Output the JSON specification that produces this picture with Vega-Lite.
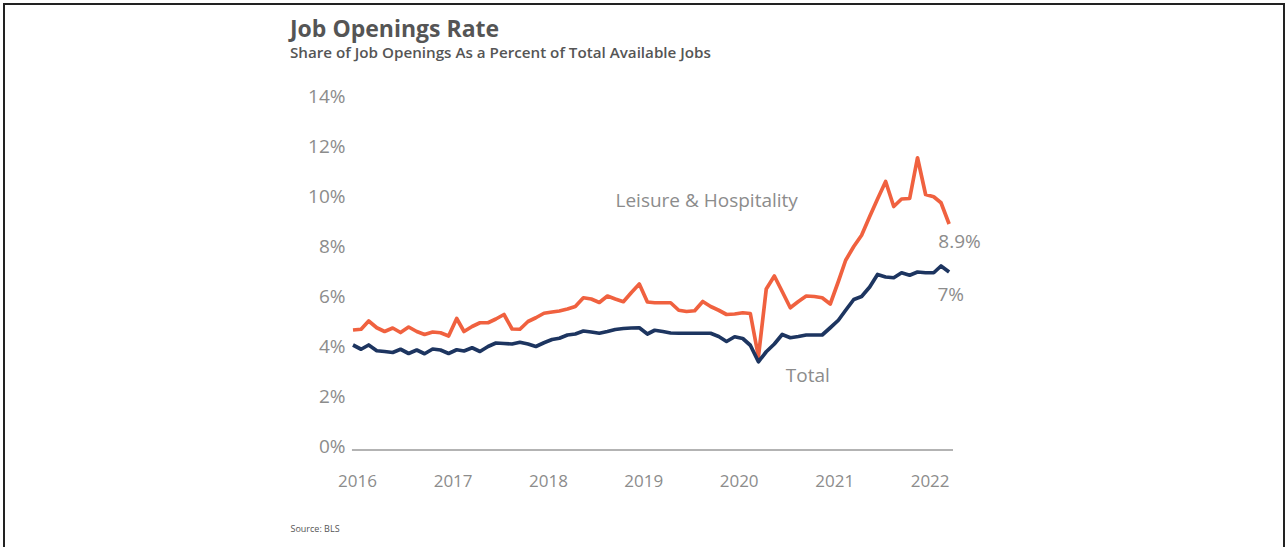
{
  "$schema": "https://vega.github.io/schema/vega-lite/v6.json",
  "width": 1280,
  "height": 548,
  "autosize": {"type": "none"},
  "padding": {"left": 4, "top": 4, "right": 2, "bottom": -5},
  "background": "white",
  "config": {"view": {"stroke": "#222222", "strokeWidth": 2}, "font": "Open Sans"},
  "title": {
    "text": "Job Openings Rate",
    "subtitle": "Share of Job Openings As a Percent of Total Available Jobs",
    "anchor": "start",
    "frame": "group",
    "dx": 286,
    "offset": -57,
    "font": "Open Sans",
    "fontSize": 23,
    "fontWeight": "bold",
    "color": "#555555",
    "subtitleFont": "Open Sans",
    "subtitleFontSize": 15.2,
    "subtitleFontWeight": 600,
    "subtitleColor": "#555555",
    "subtitlePadding": 4
  },
  "datasets": {
    "jobs": [
      {"date": "2016-01-01", "lh": 4.66, "total": 4.06},
      {"date": "2016-02-01", "lh": 4.69, "total": 3.89},
      {"date": "2016-03-01", "lh": 5.02, "total": 4.06},
      {"date": "2016-04-01", "lh": 4.75, "total": 3.83},
      {"date": "2016-05-01", "lh": 4.6, "total": 3.8},
      {"date": "2016-06-01", "lh": 4.74, "total": 3.76},
      {"date": "2016-07-01", "lh": 4.56, "total": 3.89},
      {"date": "2016-08-01", "lh": 4.78, "total": 3.72},
      {"date": "2016-09-01", "lh": 4.6, "total": 3.86},
      {"date": "2016-10-01", "lh": 4.48, "total": 3.71},
      {"date": "2016-11-01", "lh": 4.58, "total": 3.9},
      {"date": "2016-12-01", "lh": 4.55, "total": 3.86},
      {"date": "2017-01-01", "lh": 4.42, "total": 3.72},
      {"date": "2017-02-01", "lh": 5.12, "total": 3.87},
      {"date": "2017-03-01", "lh": 4.6, "total": 3.82},
      {"date": "2017-04-01", "lh": 4.8, "total": 3.95},
      {"date": "2017-05-01", "lh": 4.95, "total": 3.8},
      {"date": "2017-06-01", "lh": 4.95, "total": 4.0},
      {"date": "2017-07-01", "lh": 5.1, "total": 4.14},
      {"date": "2017-08-01", "lh": 5.28, "total": 4.12},
      {"date": "2017-09-01", "lh": 4.7, "total": 4.1},
      {"date": "2017-10-01", "lh": 4.69, "total": 4.17},
      {"date": "2017-11-01", "lh": 5.0, "total": 4.1},
      {"date": "2017-12-01", "lh": 5.15, "total": 4.0},
      {"date": "2018-01-01", "lh": 5.33, "total": 4.15},
      {"date": "2018-02-01", "lh": 5.38, "total": 4.28},
      {"date": "2018-03-01", "lh": 5.42, "total": 4.33},
      {"date": "2018-04-01", "lh": 5.5, "total": 4.46},
      {"date": "2018-05-01", "lh": 5.6, "total": 4.5},
      {"date": "2018-06-01", "lh": 5.95, "total": 4.62},
      {"date": "2018-07-01", "lh": 5.9, "total": 4.58},
      {"date": "2018-08-01", "lh": 5.76, "total": 4.53},
      {"date": "2018-09-01", "lh": 6.02, "total": 4.6},
      {"date": "2018-10-01", "lh": 5.9, "total": 4.68},
      {"date": "2018-11-01", "lh": 5.79, "total": 4.72},
      {"date": "2018-12-01", "lh": 6.15, "total": 4.74},
      {"date": "2019-01-01", "lh": 6.5, "total": 4.75},
      {"date": "2019-02-01", "lh": 5.78, "total": 4.5},
      {"date": "2019-03-01", "lh": 5.75, "total": 4.65},
      {"date": "2019-04-01", "lh": 5.75, "total": 4.6},
      {"date": "2019-05-01", "lh": 5.75, "total": 4.54},
      {"date": "2019-06-01", "lh": 5.45, "total": 4.53},
      {"date": "2019-07-01", "lh": 5.4, "total": 4.53},
      {"date": "2019-08-01", "lh": 5.43, "total": 4.53},
      {"date": "2019-09-01", "lh": 5.8, "total": 4.53},
      {"date": "2019-10-01", "lh": 5.6, "total": 4.53},
      {"date": "2019-11-01", "lh": 5.45, "total": 4.4},
      {"date": "2019-12-01", "lh": 5.28, "total": 4.2},
      {"date": "2020-01-01", "lh": 5.3, "total": 4.39},
      {"date": "2020-02-01", "lh": 5.35, "total": 4.32},
      {"date": "2020-03-01", "lh": 5.32, "total": 4.05},
      {"date": "2020-04-01", "lh": 3.59, "total": 3.39},
      {"date": "2020-05-01", "lh": 6.3, "total": 3.79},
      {"date": "2020-06-01", "lh": 6.82, "total": 4.1},
      {"date": "2020-07-01", "lh": 6.2, "total": 4.48},
      {"date": "2020-08-01", "lh": 5.55, "total": 4.35},
      {"date": "2020-09-01", "lh": 5.8, "total": 4.4},
      {"date": "2020-10-01", "lh": 6.02, "total": 4.46},
      {"date": "2020-11-01", "lh": 6.0, "total": 4.46},
      {"date": "2020-12-01", "lh": 5.95, "total": 4.46},
      {"date": "2021-01-01", "lh": 5.7, "total": 4.75},
      {"date": "2021-02-01", "lh": 6.6, "total": 5.05},
      {"date": "2021-03-01", "lh": 7.45, "total": 5.45},
      {"date": "2021-04-01", "lh": 8.0, "total": 5.88},
      {"date": "2021-05-01", "lh": 8.45, "total": 6.0},
      {"date": "2021-06-01", "lh": 9.2, "total": 6.38},
      {"date": "2021-07-01", "lh": 9.9, "total": 6.88},
      {"date": "2021-08-01", "lh": 10.6, "total": 6.78},
      {"date": "2021-09-01", "lh": 9.6, "total": 6.75},
      {"date": "2021-10-01", "lh": 9.9, "total": 6.95},
      {"date": "2021-11-01", "lh": 9.92, "total": 6.85},
      {"date": "2021-12-01", "lh": 11.55, "total": 6.98},
      {"date": "2022-01-01", "lh": 10.08, "total": 6.95},
      {"date": "2022-02-01", "lh": 9.99, "total": 6.95},
      {"date": "2022-03-01", "lh": 9.75, "total": 7.22},
      {"date": "2022-04-01", "lh": 8.9, "total": 6.98}
    ],
    "labels": [
      {"date": "2019-09-16", "value": 9.82, "label": "Leisure & Hospitality"},
      {"date": "2020-10-07", "value": 2.82, "label": "Total"},
      {"date": "2022-05-11", "value": 8.18, "label": "8.9%"},
      {"date": "2022-04-07", "value": 6.06, "label": "7%"}
    ],
    "base": [
      {"date": "2015-12-28", "end": "2022-04-16", "value": 0}
    ]
  },
  "encoding": {
    "x": {
      "field": "date",
      "type": "temporal",
      "scale": {
        "type": "utc",
        "domain": [
          {"year": 2012, "month": 5, "date": 5, "utc": true},
          {"year": 2025, "month": 10, "date": 4, "utc": true}
        ],
        "nice": false
      },
      "axis": {
        "orient": "bottom",
        "offset": -79,
        "values": [
          {"year": 2016, "month": 1, "date": 1, "utc": true},
          {"year": 2017, "month": 1, "date": 1, "utc": true},
          {"year": 2018, "month": 1, "date": 1, "utc": true},
          {"year": 2019, "month": 1, "date": 1, "utc": true},
          {"year": 2020, "month": 1, "date": 1, "utc": true},
          {"year": 2021, "month": 1, "date": 1, "utc": true},
          {"year": 2022, "month": 1, "date": 1, "utc": true}
        ],
        "format": "%Y",
        "formatType": "utc",
        "domain": false,
        "ticks": false,
        "grid": false,
        "labelPadding": 0,
        "labelOffset": 4,
        "labelFont": "Open Sans",
        "labelFontSize": 17,
        "labelColor": "#8c8c8c",
        "labelFlush": false,
        "labelOverlap": false,
        "title": "Source: BLS",
        "titleX": 286,
        "titleY": 55,
        "titleAlign": "left",
        "titleBaseline": "middle",
        "titleFont": "Open Sans",
        "titleFontSize": 9,
        "titleFontWeight": "normal",
        "titleColor": "#555555"
      }
    },
    "y": {
      "field": "value",
      "type": "quantitative",
      "scale": {"domain": [-4.22, 17.7], "nice": false, "zero": false},
      "axis": {
        "orient": "left",
        "offset": -341,
        "values": [0, 2, 4, 6, 8, 10, 12, 14],
        "labelExpr": "datum.value + '%'",
        "domain": false,
        "ticks": false,
        "grid": false,
        "labelPadding": 0,
        "labelFont": "Open Sans",
        "labelFontSize": 19,
        "labelColor": "#8c8c8c",
        "labelFlush": false,
        "labelOverlap": false,
        "title": null
      }
    }
  },
  "layer": [
    {
      "data": {"name": "base"},
      "mark": {"type": "rule", "color": "#9a9a9a", "strokeWidth": 1.5, "yOffset": 3.5},
      "encoding": {
        "x2": {"field": "end"}
      }
    },
    {
      "data": {"name": "jobs"},
      "transform": [{"fold": ["lh", "total"], "as": ["series", "value"]}],
      "mark": {"type": "line", "strokeWidth": 3.7, "strokeJoin": "round"},
      "encoding": {
        "color": {
          "field": "series",
          "type": "nominal",
          "scale": {"domain": ["lh", "total"], "range": ["#F0613F", "#1D3560"]},
          "legend": null
        }
      }
    },
    {
      "data": {"name": "labels"},
      "mark": {"type": "text", "font": "Open Sans", "fontSize": 19, "color": "#8c8c8c", "align": "center", "baseline": "middle"},
      "encoding": {
        "text": {"field": "label", "type": "nominal"}
      }
    }
  ]
}
